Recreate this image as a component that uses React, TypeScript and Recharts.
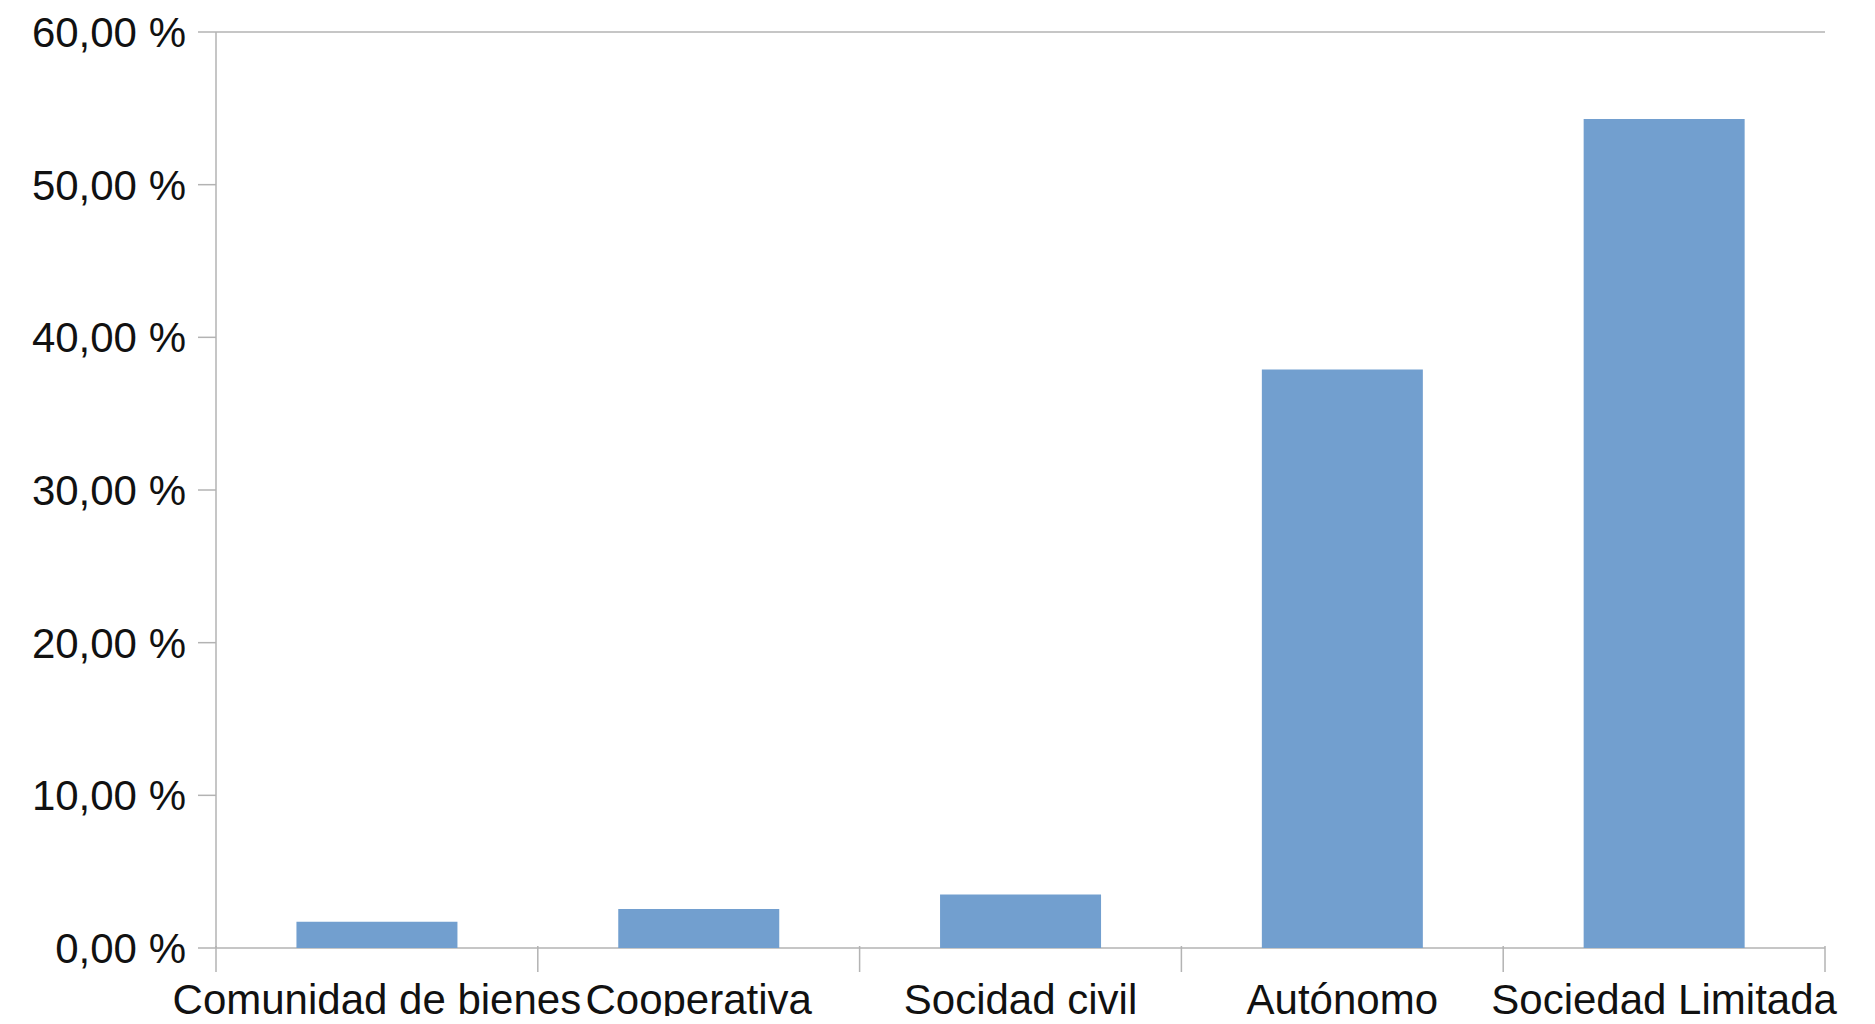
import React from "react";
import { BarChart, Bar, XAxis, YAxis, CartesianGrid } from "recharts";

const categories = ["Comunidad de bienes", "Cooperativa", "Socidad civil", "Autónomo", "Sociedad Limitada"];
const values = [1.72, 2.55, 3.5, 37.9, 54.3];
const yTicks = [0, 10, 20, 30, 40, 50, 60];

const data = categories.map((c, i) => ({ name: c, value: values[i] }));

const GRID = "#b3b3b3";
const FONT = "'Liberation Sans', Arial, sans-serif";
const fmt = (v: number) => `${v.toFixed(2).replace(".", ",")} %`;

const XTick = (props: any) => {
  const { x, y, payload, index, visibleTicksCount } = props;
  const half = payload && payload.offset ? payload.offset : 160.9;
  const top = y - 12;
  return (
    <g>
      <line x1={x - half} x2={x - half} y1={top - 8} y2={top + 18} stroke={GRID} strokeWidth={1.5} />
      {index === (visibleTicksCount ?? categories.length) - 1 && (
        <line x1={x + half} x2={x + half} y1={top - 8} y2={top + 18} stroke={GRID} strokeWidth={1.5} />
      )}
      <text x={x} y={top + 60} textAnchor="middle" fontSize={42} fontFamily={FONT} fill="#111">
        {payload.value}
      </text>
    </g>
  );
};

export default function App() {
  return (
    <div style={{ width: 1859, height: 1008, overflow: "visible" }}>
      <BarChart
        width={1859}
        height={1016}
        data={data}
        margin={{ top: 24, right: 42, bottom: 8, left: 0 }}
        barCategoryGap="25%"
      >
        <CartesianGrid horizontal={true} vertical={false} stroke={GRID} strokeWidth={1.5} />
        <XAxis
          dataKey="name"
          height={68}
          axisLine={false}
          tickLine={false}
          tickMargin={12}
          interval={0}
          tick={<XTick />}
        />
        <YAxis
          yAxisId="left"
          width={208}
          domain={[0, 60]}
          ticks={yTicks}
          tickFormatter={fmt}
          tickSize={18}
          tickMargin={12}
          axisLine={{ stroke: GRID, strokeWidth: 1.5 }}
          tickLine={{ stroke: GRID, strokeWidth: 1.5 }}
          tick={{ fontSize: 42, fontFamily: FONT, fill: "#111" }}
          interval={0}
        />
        <YAxis
          yAxisId="right"
          orientation="right"
          width={0}
          domain={[0, 60]}
          tick={false}
          tickLine={false}
          axisLine={{ stroke: GRID, strokeWidth: 1.5 }}
        />
        <Bar yAxisId="left" dataKey="value" fill="#729fcf" isAnimationActive={false} />
      </BarChart>
    </div>
  );
}
